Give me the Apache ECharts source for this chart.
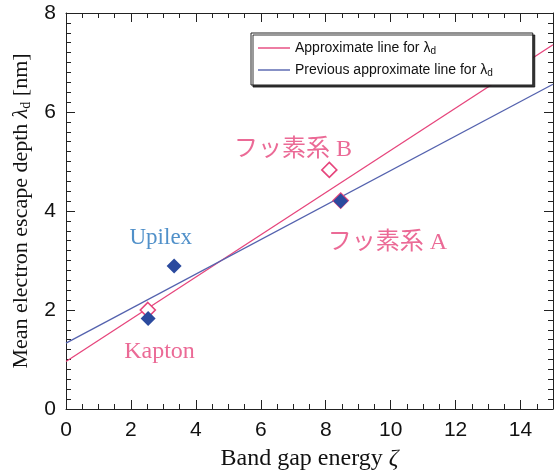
<!DOCTYPE html>
<html>
<head>
<meta charset="utf-8">
<script src="https://cdn.jsdelivr.net/npm/echarts@6/dist/echarts.min.js"></script>
<style>html,body{margin:0;padding:0;background:#fff;}#c{width:560px;height:472px;}</style>
</head>
<body>
<div id="c"></div>
<script>
// ---- data ----
const lineX = [0, 15];
const approxLine = [0.96, 7.36];        // Approximate line for λd
const prevLine = [1.33, 6.56];          // Previous approximate line for λd
const filledX = [2.53, 3.33, 8.46];     // filled blue diamonds
const filledY = [1.83, 2.89, 4.20];
const openX = [2.52, 8.11, 8.46];       // open pink diamonds
const openY = [2.00, 4.83, 4.21];
const pinkLabels = ['フッ素系 B', 'フッ素系 A', 'Kapton'];
const pinkLabelX = [6.99, 9.90, 2.88];
const pinkLabelY = [5.23, 3.35, 1.15];
const blueLabels = ['Upilex'];
const blueLabelX = [2.92];
const blueLabelY = [3.46];
const xTicks = [0, 2, 4, 6, 8, 10, 12, 14];
const yTicks = [0, 2, 4, 6, 8];

const PINK = '#e6457c', BLUE_LINE = '#5462ae', BLUE_FILL = '#2b4a9e', BLUE_TEXT = '#2474bc';
const SERIF = '"Liberation Serif","Noto Sans CJK JP",serif';
const SANS = '"Liberation Sans",Arial,sans-serif';
const LINE_ICON = 'path://M0,0L32,0L32,1.4L0,1.4Z';

const chart = echarts.init(document.getElementById('c'), null, {renderer: 'canvas'});
const zip = (a, b) => a.map((v, i) => [v, b[i]]);
const axisCommon = {
  min: 0, interval: 2, splitLine: {show: false},
  axisLine: {show: true, onZero: false, lineStyle: {color: '#222', width: 1}},
  axisTick: {show: true, inside: false, length: -9, lineStyle: {color: '#222'}},
};
const minor = n => ({show: true, splitNumber: n, length: -5, lineStyle: {color: '#222'}});
const subRich = fs => ({
  it: {fontStyle: 'italic', fontFamily: SERIF, fontSize: fs, color: '#111'},
  sub: {fontFamily: SERIF, fontSize: Math.round(fs * 0.65), color: '#111', verticalAlign: 'bottom', padding: [10, 0, 0, 0]}
});

chart.setOption({
  animation: false,
  backgroundColor: '#fff',
  grid: {left: 66, right: 7, top: 13, bottom: 63, containLabel: false, outerBoundsMode: 'none'},
  legend: {
    show: true, orient: 'vertical', left: 251, top: 33, width: 276,
    padding: [8, 40, 7, 7], itemGap: 7, itemWidth: 32, itemHeight: 14,
    backgroundColor: '#fff', borderColor: '#222', borderWidth: 1,
    shadowColor: 'rgba(20,20,20,0.85)', shadowBlur: 0, shadowOffsetX: 2, shadowOffsetY: 2,
    data: [
      {name: 'Approximate line for λd', icon: LINE_ICON},
      {name: 'Previous approximate line for λd', icon: LINE_ICON}
    ],
    formatter: n => n.replace('λd', '{l|λ}{s|d}'),
    textStyle: {
      fontFamily: SANS, fontSize: 14, color: '#111',
      rich: {
        l: {fontFamily: SANS, fontSize: 14, color: '#111'},
        s: {fontFamily: SANS, fontSize: 10, color: '#111', verticalAlign: 'bottom', padding: [6, 0, 0, 0]}
      }
    }
  },
  xAxis: [
    Object.assign({}, axisCommon, {
      type: 'value', max: 15, position: 'bottom', minorTick: minor(4),
      axisLabel: {fontFamily: SANS, fontSize: 21, color: '#111', margin: 11,
        formatter: v => xTicks.includes(v) ? String(v) : ''},
      name: 'Band gap energy {it|ζ}', nameLocation: 'middle', nameGap: 38,
      nameTextStyle: {fontFamily: SERIF, fontSize: 24, color: '#111', rich: subRich(24)}
    }),
    Object.assign({}, axisCommon, {
      type: 'value', max: 15, position: 'top', minorTick: minor(4),
      axisLabel: {show: false}
    })
  ],
  yAxis: [
    Object.assign({}, axisCommon, {
      type: 'value', max: 8, position: 'left', minorTick: minor(10),
      axisLabel: {fontFamily: SANS, fontSize: 21, color: '#111', margin: 10,
        formatter: v => yTicks.includes(v) ? String(v) : ''},
      name: 'Mean electron escape depth {it|λ}{sub|d} [nm]', nameLocation: 'middle', nameGap: 33, nameRotate: 90,
      nameTextStyle: {fontFamily: SERIF, fontSize: 22, color: '#111', rich: subRich(22)}
    }),
    Object.assign({}, axisCommon, {
      type: 'value', max: 8, position: 'right', minorTick: minor(10),
      axisLabel: {show: false}
    })
  ],
  series: [
    {name: 'Approximate line for λd', type: 'line', data: zip(lineX, approxLine), symbol: 'none',
      lineStyle: {color: PINK, width: 1.3}, itemStyle: {color: PINK}, z: 2, silent: true},
    {name: 'Previous approximate line for λd', type: 'line', data: zip(lineX, prevLine), symbol: 'none',
      lineStyle: {color: BLUE_LINE, width: 1.3}, itemStyle: {color: BLUE_LINE}, z: 2, silent: true},
    {type: 'scatter', data: zip(openX, openY), symbol: 'diamond', symbolSize: 15,
      itemStyle: {color: '#fff', borderColor: PINK, borderWidth: 1.6, opacity: 1}, z: 3, silent: true},
    {type: 'scatter', data: zip(filledX, filledY), symbol: 'diamond', symbolSize: 15,
      itemStyle: {color: BLUE_FILL, opacity: 1}, z: 4, silent: true},
    {type: 'scatter', symbolSize: 0, silent: true, z: 5,
      data: pinkLabels.map((t, i) => ({name: t, value: [pinkLabelX[i], pinkLabelY[i]]})),
      label: {show: true, position: 'inside', formatter: p => p.name,
        fontFamily: SERIF, fontSize: 24, color: PINK}},
    {type: 'scatter', symbolSize: 0, silent: true, z: 5,
      data: blueLabels.map((t, i) => ({name: t, value: [blueLabelX[i], blueLabelY[i]]})),
      label: {show: true, position: 'inside', formatter: p => p.name,
        fontFamily: SERIF, fontSize: 23, color: BLUE_TEXT}}
  ]
});
</script>
</body>
</html>
